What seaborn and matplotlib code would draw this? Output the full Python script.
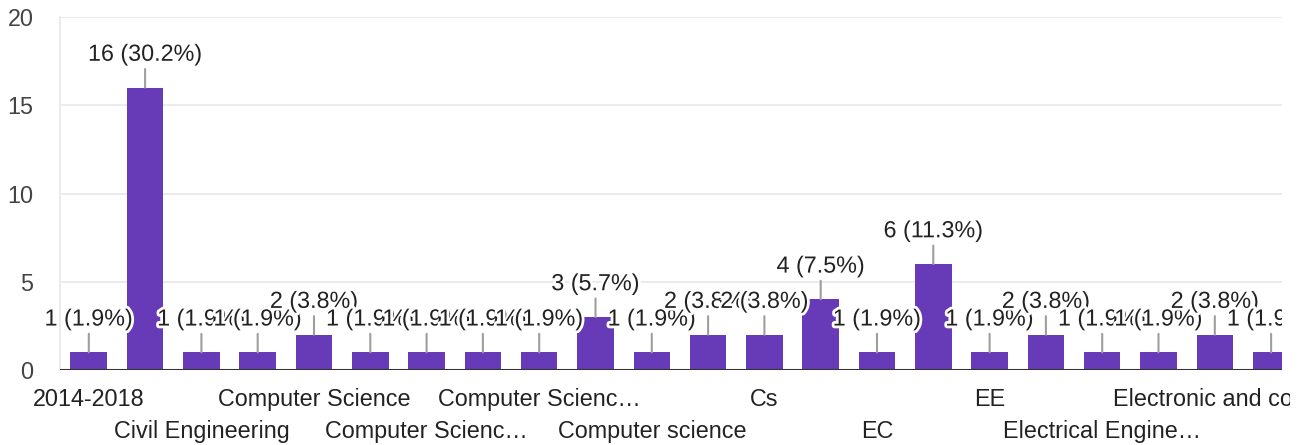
import numpy as np
import pandas as pd
import matplotlib
matplotlib.use("Agg")
import matplotlib.pyplot as plt
import matplotlib.patheffects as pe
from matplotlib.transforms import Bbox
import seaborn as sns

# answers (sorted like the form summary), only every second one gets a tick label
categories = ["2014-2018", "CSE", "Civil Engineering", "Computer Engineering",
              "Computer Science", "Computer Science & Engineering",
              "Computer Science and Engineering", "Computer Science Engineering",
              "Computer Science and Technology", "Computer Science and engineering",
              "Computer science", "Computer science and engineering", "Cs", "Cse",
              "EC", "ECE", "EE", "EEE", "Electrical Engineering",
              "Electrical and Electronics", "Electronic and communication",
              "Electronics", "Electronics and Communication"]
counts = [1, 16, 1, 1, 2, 1, 1, 1, 1, 3, 1, 2, 2, 4, 1, 6, 1, 2, 1, 1, 2, 1, 1]
tick_text = ["2014-2018", "", "Civil Engineering", "", "Computer Science", "",
             "Computer Scienc\u2026", "", "Computer Scienc\u2026", "",
             "Computer science", "", "Cs", "", "EC", "", "EE", "",
             "Electrical Engine\u2026", "", "Electronic and co\u2026", "", ""]

df = pd.DataFrame({"answer": categories, "count": counts})
total = sum(counts)

sns.set_style("white")
plt.rcParams["font.family"] = ["Liberation Sans", "DejaVu Sans"]
fs = 16.8

fig = plt.figure(figsize=(13, 4.45), dpi=100)
ax = fig.add_axes([0.046, 0.1685, 0.94, 0.7933])

sns.barplot(data=df, x="answer", y="count", color="#673ab7", saturation=1,
            width=0.65, linewidth=0, ax=ax, zorder=2)

ax.set_yticks([0, 5, 10, 15, 20])
ax.yaxis.grid(True, color="#ebebeb", lw=1.5, zorder=0)
ax.set_axisbelow(True)
for s in ["top", "right", "bottom"]:
    ax.spines[s].set_visible(False)
ax.spines["left"].set_color("#ebebeb")
ax.spines["left"].set_linewidth(1.5)
ax.axhline(0, color="#333333", lw=2.2, zorder=3)
ax.set_xlabel("")
ax.set_ylabel("")
ax.tick_params(axis="y", length=0, pad=19, labelsize=fs, labelcolor="#444444")

pos = np.arange(len(categories))
row1 = [i for i in pos if i % 4 == 0]
row2 = [i for i in pos if i % 4 == 2]
ax.set_xticks(row1, [tick_text[i] for i in row1])
ax.set_xticks(row2, [tick_text[i] for i in row2], minor=True)
ax.tick_params(axis="x", which="major", length=0, pad=13, labelsize=fs, labelcolor="#222222")
ax.tick_params(axis="x", which="minor", length=0, pad=36, labelsize=fs, labelcolor="#222222")
clip = Bbox([[0, 0], [1290, 445]])
for t in ax.get_xticklabels(which="both"):
    t.set_clip_box(clip)
    t.set_clip_on(True)

# limits after the ticks, so set_xticks does not widen the view
ax.set_ylim(0, 20)
ax.set_xlim(-0.515, 21.19)

# value labels are cut only at the right edge of the plot
clip_ann = Bbox([[0, 0], [1282, 445]])
for i, v in enumerate(counts):
    label = f"{v} ({v / total * 100:.1f}%)"
    a = ax.annotate(label, xy=(i, v), xytext=(0, 24), textcoords="offset points",
                    ha="center", va="center", fontsize=fs, color="#222222",
                    arrowprops=dict(arrowstyle="-", color="#9e9e9e", lw=1.5,
                                    shrinkA=0, shrinkB=0),
                    zorder=4, annotation_clip=False)
    a.set_path_effects([pe.withStroke(linewidth=4, foreground="white")])
    a.set_clip_box(clip_ann)
    a.set_clip_on(True)
    a.arrow_patch.set_clip_path(ax.patch)

fig.savefig("out.png", dpi=100)
